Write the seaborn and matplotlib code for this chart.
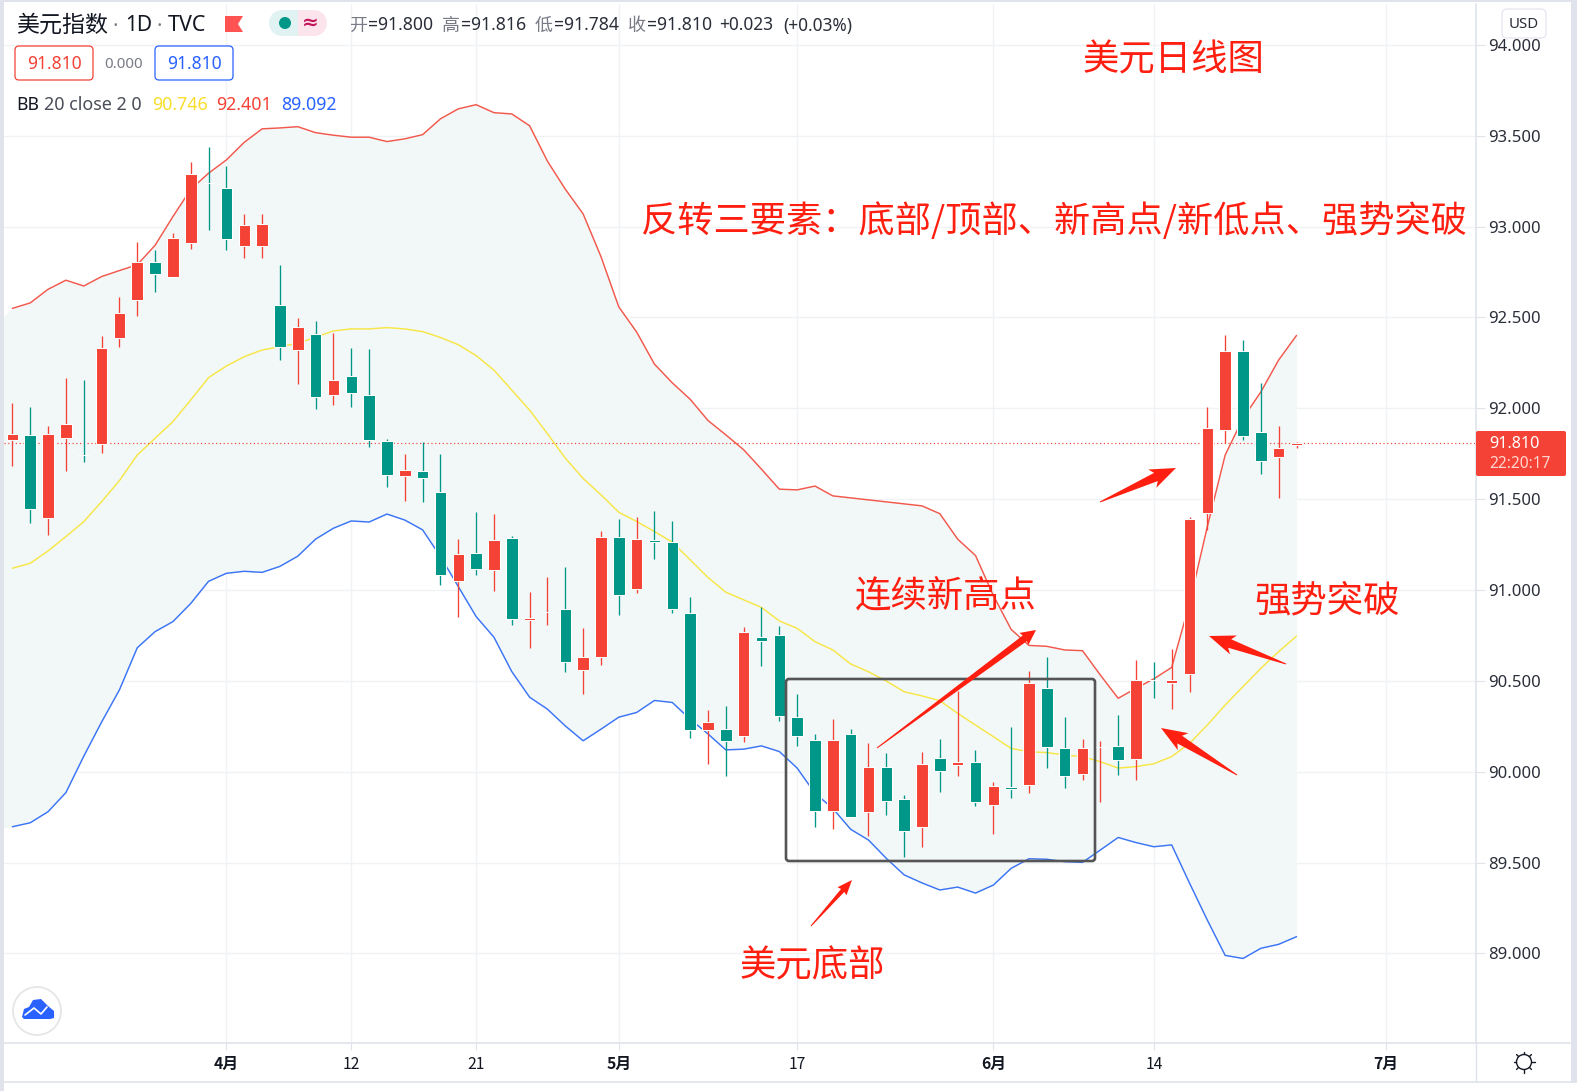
import numpy as np
import pandas as pd
import matplotlib
matplotlib.use("Agg")
import matplotlib.pyplot as plt
from matplotlib.patches import Rectangle, FancyBboxPatch, Circle, Polygon, Ellipse
import seaborn as sns

sns.set_style("white")
FONT = ['Noto Sans', 'Noto Sans CJK SC', 'DejaVu Sans']
CJK = ['Noto Sans CJK SC', 'DejaVu Sans']
plt.rcParams['font.family'] = FONT

opens = [91.826,91.853,91.396,91.837,91.743,91.804,92.387,92.596,92.807,92.725,92.91,93.239,93.215,92.894,92.894,
         92.569,92.321,92.409,92.073,92.178,92.073,91.82,91.629,91.656,91.537,91.05,91.205,91.111,91.287,90.835,
         90.88,90.896,90.557,90.632,91.293,91.006,91.276,91.265,90.874,90.23,90.236,90.199,90.742,90.753,90.302,
         90.175,89.786,90.207,89.778,90.026,89.85,89.695,90.075,90.037,90.053,89.817,89.916,89.927,90.461,90.13,
         89.987,90.136,90.141,90.07,90.505,90.49,90.538,91.424,91.881,92.316,91.87,91.732,91.80]
closes = [91.86,91.446,91.859,91.914,91.742,92.334,92.527,92.807,92.739,92.939,93.29,93.238,92.932,93.009,93.015,
          92.338,92.448,92.062,92.156,92.084,91.826,91.633,91.661,91.617,91.085,91.199,91.118,91.276,90.838,90.845,
          90.88,90.601,90.632,91.293,90.975,91.282,91.265,90.898,90.232,90.274,90.17,90.77,90.72,90.309,90.199,
          89.786,90.175,89.752,90.026,89.839,89.673,90.042,90.004,90.053,89.833,89.921,89.905,90.488,90.136,89.976,
          90.13,90.136,90.064,90.505,90.504,90.505,91.391,91.892,92.316,91.848,91.71,91.782,91.81]
highs = [92.03,92.007,91.903,92.167,92.156,92.398,92.613,92.916,92.872,92.965,93.356,93.439,93.334,93.07,93.07,
         92.789,92.497,92.481,92.417,92.332,92.327,91.829,91.749,91.816,91.75,91.282,91.43,91.419,91.296,90.99,
         91.072,91.128,90.792,91.324,91.392,91.403,91.436,91.381,90.962,90.34,90.362,90.797,90.907,90.803,90.428,
         90.208,90.291,90.235,90.158,90.103,89.872,90.108,90.18,90.444,90.119,89.943,90.246,90.554,90.631,90.301,
         90.18,90.169,90.312,90.615,90.604,90.675,91.4,92.007,92.404,92.376,92.139,91.903,91.816]
lows = [91.68,91.371,91.30,91.657,91.706,91.756,92.339,92.51,92.642,92.725,92.879,92.983,92.873,92.829,92.829,
        92.266,92.136,91.998,92.018,92.007,91.789,91.569,91.492,91.482,91.03,90.854,91.085,90.997,90.81,90.683,
        90.81,90.551,90.425,90.588,90.865,90.984,91.172,90.874,90.188,90.04,89.979,90.161,90.583,90.28,90.144,
        89.693,89.687,89.75,89.646,89.761,89.53,89.585,89.888,89.976,89.813,89.657,89.855,89.883,90.02,89.91,
        89.954,89.833,89.983,89.956,90.407,90.347,90.44,91.33,91.807,91.828,91.639,91.506,91.784]
bb_upper = [92.55,92.58,92.655,92.705,92.673,92.725,92.758,92.79,92.897,93.055,93.205,93.294,93.367,93.464,93.538,
            93.543,93.55,93.517,93.503,93.492,93.492,93.468,93.483,93.506,93.593,93.648,93.671,93.627,93.62,93.555,
            93.36,93.206,93.07,92.835,92.558,92.42,92.243,92.14,92.05,91.933,91.854,91.772,91.665,91.555,91.551,
            91.572,91.518,91.507,91.496,91.485,91.474,91.463,91.42,91.28,91.19,90.97,90.783,90.695,90.69,90.67,
            90.666,90.532,90.404,90.459,90.511,90.574,90.926,91.349,91.743,91.945,92.09,92.266,92.401]
bb_mid = [91.12,91.147,91.215,91.294,91.376,91.486,91.602,91.743,91.835,91.927,92.046,92.169,92.233,92.284,92.321,
          92.339,92.358,92.391,92.426,92.437,92.437,92.444,92.437,92.422,92.39,92.35,92.29,92.21,92.1,91.99,
          91.86,91.726,91.614,91.524,91.428,91.377,91.322,91.263,91.166,91.069,90.988,90.946,90.904,90.83,90.789,
          90.716,90.67,90.593,90.55,90.499,90.44,90.417,90.391,90.321,90.257,90.193,90.128,90.11,90.105,90.092,
          90.083,90.055,90.02,90.028,90.044,90.083,90.156,90.257,90.367,90.468,90.569,90.661,90.746]
bb_lower = [89.697,89.719,89.78,89.885,90.085,90.273,90.45,90.682,90.771,90.826,90.926,91.048,91.092,91.103,91.097,
            91.13,91.186,91.28,91.34,91.38,91.374,91.418,91.385,91.331,91.184,91.019,90.854,90.74,90.551,90.41,
            90.344,90.252,90.17,90.234,90.3,90.326,90.392,90.381,90.289,90.208,90.12,90.124,90.142,90.111,90.02,
            89.881,89.798,89.683,89.624,89.523,89.432,89.388,89.349,89.365,89.332,89.376,89.468,89.521,89.518,89.505,
            89.501,89.569,89.638,89.61,89.587,89.597,89.387,89.183,88.989,88.972,89.028,89.05,89.092]
price_ticks = [89.0,89.5,90.0,90.5,91.0,91.5,92.0,92.5,93.0,93.5,94.0]
date_ticks = [12,19,26,34,44,55,64,77]
date_labels = ['4月','12','21','5月','17','6月','14','7月']
last_price = 91.81
prev_upper, prev_lower = 92.46, 89.68

W, H = 1577, 1091
RED, BLUE = '#f44336', '#2962ff'
GREEN = '#009688'
ANNO = '#ff1f10'
LINE = '#e0e3eb'
GRID = '#f0f3f6'
INK = '#131722'
GREY = '#787b86'

fig = plt.figure(figsize=(W/100, H/100), dpi=100, facecolor='white')
L, R, T, B = 4, 1476, 4, 1043
ax = fig.add_axes([L/W, 1-B/H, (R-L)/W, (B-T)/H], facecolor='white')

df = pd.DataFrame({'n': np.arange(len(opens)), 'o': opens, 'h': highs, 'l': lows, 'c': closes,
                   'up': bb_upper, 'mid': bb_mid, 'low': bb_lower})
is_up = df.c >= df.o

ax.fill_between(np.r_[-1, df.n], np.r_[prev_upper, df.up], np.r_[prev_lower, df.low],
                color='#f2f8f8', lw=0, zorder=1)
for col, c in (('up', '#f2584c'), ('mid', '#f7e646'), ('low', '#3b74f5')):
    sns.lineplot(data=df, x='n', y=col, ax=ax, color=c, lw=1.05, estimator=None, sort=False, zorder=2, legend=False)
ax.axhline(last_price, color=RED, lw=0.85, ls=(0, (1, 2.2)), zorder=2.5)
ax.vlines(df.n, df.l, df.h, colors=np.where(is_up, RED, GREEN), lw=0.95, zorder=3)
ax.bar(df.n, (df.c-df.o).abs(), bottom=df[['o', 'c']].min(axis=1), width=0.645,
       color=np.where(is_up, RED, GREEN).tolist(), edgecolor='white', lw=0.75, zorder=4)

px, x0_px = 17.835, 12.4
ax.set_xlim((L-x0_px)/px, (R-x0_px)/px)
ax.set_ylim(90+(771.7-B)/181.7, 90+(771.7-T)/181.7)
ax.set_xticks(date_ticks)
ax.set_xticklabels(date_labels, family=CJK, fontsize=11.3, color=INK)
for t, s in zip(ax.get_xticklabels(), date_labels):
    t.set_fontweight('bold' if '月' in s else 'normal')
ax.set_yticks(price_ticks)
ax.set_yticklabels([f'{v:.3f}' for v in price_ticks], fontsize=12, color='#2a2e39')
ax.yaxis.tick_right()
ax.tick_params(axis='x', length=5, width=0.8, color=LINE, pad=4.5, bottom=True)
ax.tick_params(axis='y', length=6.5, width=0.8, color=LINE, pad=2.5, right=True)
ax.grid(True, color=GRID, lw=1.0, zorder=0)
ax.set_axisbelow(True)
ax.set_xlabel(''); ax.set_ylabel('')
for s in ('top', 'left'):
    ax.spines[s].set_visible(False)
for s in ('bottom', 'right'):
    ax.spines[s].set_color(LINE); ax.spines[s].set_linewidth(1.2)

ov = fig.add_axes([0, 0, 1, 1], facecolor='none', zorder=10)
ov.set_xlim(0, W); ov.set_ylim(H, 0); ov.axis('off')

# frame strips
for xy, w, h in (((0, 0), 4, H), ((0, 0), W, 2), ((1571, 0), 6, 1083)):
    ov.add_patch(Rectangle(xy, w, h, color=LINE, lw=0))
ov.plot([4, 1571], [1082, 1082], color=LINE, lw=1.2)
ov.plot([1475.5, 1475.5], [1043, 1082], color=LINE, lw=1.0)
ov.plot([1476, 1571], [1043, 1043], color=LINE, lw=1.2)

def txt(x, y, s, size_px, color=INK, ha='left', family=FONT, **kw):
    ov.text(x, y+1.5, s, fontsize=size_px*0.72, color=color, ha=ha, va='center', family=family, **kw)

# header
txt(16, 24, '美元指数', 23, family=CJK)
txt(115, 25, '·', 20, GREY, ha='center')
txt(125, 24, '1D', 21)
txt(159, 25, '·', 20, GREY, ha='center')
txt(168, 24, 'TVC', 21.5)
ov.add_patch(Polygon([(225, 16), (243, 16), (238, 24), (243, 32), (225, 32)], color='#ff5252', lw=0))
ov.add_patch(Ellipse((282, 23), 26, 26, color='#e0f2f1', lw=0))
ov.add_patch(Rectangle((282, 10), 16, 26, color='#e0f2f1', lw=0))
ov.add_patch(Ellipse((314, 23), 26, 26, color='#fce4ec', lw=0))
ov.add_patch(Rectangle((298, 10), 17, 26, color='#fce4ec', lw=0))
ov.add_patch(Circle((285, 23), 6, color=GREEN, lw=0))
txt(310, 22, '≈', 20, '#c2185b', ha='center', family=['DejaVu Sans'], fontweight='bold')
for x, k, v in ((349, '开', '=91.800'), (442, '高', '=91.816'), (535, '低', '=91.784'), (628, '收', '=91.810')):
    txt(x, 24, k, 18, GREY, family=CJK)
    txt(x+19, 24, v, 17.6, '#2a2e39')
txt(719, 24, '+0.023', 17.3, '#2a2e39')
txt(783, 24, '(+0.03%)', 17.3, '#2a2e39')
for x, c in ((15, RED), (155, BLUE)):
    ov.add_patch(FancyBboxPatch((x, 46), 78, 34, boxstyle='round,pad=0,rounding_size=4', fc='white', ec=c, lw=0.9))
    txt(x+39, 62.5, '91.810', 17.5, c, ha='center')
txt(124, 62.5, '0.000', 15, GREY, ha='center')
txt(16, 103, 'BB', 17.6, INK)
txt(44, 103, '20 close 2 0', 18, '#4a4e59')
txt(152, 103, '90.746', 17.8, '#f8de2a')
txt(216, 103, '92.401', 17.8, RED)
txt(281, 103, '89.092', 17.8, BLUE)

# currency button, price tag, logo, settings
ov.add_patch(FancyBboxPatch((1502, 9), 44, 29, boxstyle='round,pad=0,rounding_size=5', fc='white', ec=LINE, lw=0.9, alpha=0.9))
txt(1524, 23, 'USD', 15, '#2a2e39', ha='center')
ov.add_patch(FancyBboxPatch((1476, 431), 90, 45, boxstyle='round,pad=0,rounding_size=2', color=RED, lw=0))
txt(1489, 442, '91.810', 16.2, 'white', fontweight='bold')
txt(1489, 462, '22:20:17', 15.5, '#ffd5cf', fontweight='bold')
ov.add_patch(Circle((37, 1011), 24, fc='white', ec='#e6e6e6', lw=1.3))
ov.add_patch(Polygon([(22, 1017), (24, 1009), (29, 1007), (33, 1000), (41, 999), (46, 1004), (48, 1006),
                      (54, 1011), (54, 1018), (50, 1019), (24, 1019)], color=BLUE, lw=0))
ov.plot([25, 34, 41, 47], [1015, 1008, 1014, 1007], color='white', lw=1.2)
ov.add_patch(Circle((1524, 1062), 7.5, fc='white', ec=INK, lw=1.0))
for a in np.arange(0, 2*np.pi, np.pi/4):
    ov.plot([1524+8*np.cos(a), 1524+10.5*np.cos(a)], [1062+8*np.sin(a), 1062+10.5*np.sin(a)], color=INK, lw=1.0)

# hand-drawn annotations
ov.add_patch(FancyBboxPatch((786, 679), 309, 182, boxstyle='round,pad=0,rounding_size=3', fc='none', ec='#555555', lw=1.9))
def arrow(x0, y0, x1, y1, neck=22, wn=4.5, wb=10, back=4):
    p0, p1 = np.array([x0, y0], float), np.array([x1, y1], float)
    d = (p1-p0)/np.hypot(*(p1-p0)); n = np.array([-d[1], d[0]])
    nk = p1-d*neck
    pts = [p0+n*0.5, nk+n*wn, nk-d*back+n*wb, p1, nk-d*back-n*wb, nk-n*wn, p0-n*0.5]
    ov.add_patch(Polygon(pts, color=ANNO, lw=0))
arrow(811, 926, 852, 880, neck=14, wn=2.2, wb=6, back=1)
arrow(877, 748, 1036, 630, neck=14, wn=3.5, wb=7.5, back=1)
arrow(1100, 502, 1176, 468)
arrow(1286, 664, 1209, 636)
arrow(1237, 775, 1161, 728)
for x, y, s, size in ((1083, 58.5, '美元日线图', 36.4),
                      (641, 220, '反转三要素：底部/顶部、新高点/新低点、强势突破', 36.2),
                      (855, 596, '连续新高点', 36.4),
                      (1254, 599.5, '强势突破', 36.4),
                      (740, 965, '美元底部', 36.4)):
    txt(x, y, s, size, ANNO, family=CJK)

fig.savefig('out.png', dpi=100, facecolor='white')
